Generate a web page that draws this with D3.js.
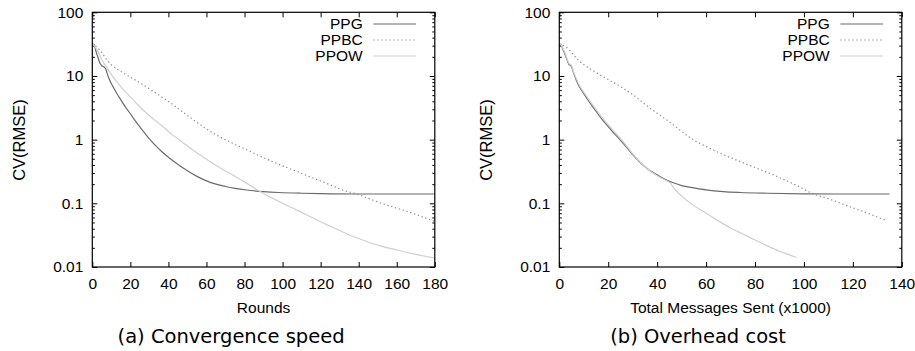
<!DOCTYPE html>
<html>
<head>
<meta charset="utf-8">
<script src="https://cdn.jsdelivr.net/npm/d3@7"></script>
<style>
  body { margin: 0; background: #fff; }
  svg text { font-family: "Liberation Sans", Arial, sans-serif; fill: #000; }
</style>
</head>
<body>
<svg id="chart" width="915" height="351"></svg>
<script>
// series names and y tick values
const seriesNames = ["PPG", "PPBC", "PPOW"];
const yTicks = [0.01, 0.1, 1, 10, 100];
const xTicksA = [0, 20, 40, 60, 80, 100, 120, 140, 160, 180];
const xTicksB = [0, 20, 40, 60, 80, 100, 120, 140];

// (a) convergence speed: rounds vs CV(RMSE)
const roundsPPG = [0, 1, 2, 3, 4, 5, 6, 7, 8, 9, 10, 12, 14, 17, 20, 23, 26, 30, 33, 37, 40, 46, 50, 55, 60, 65, 70, 75, 81, 90, 98, 110, 120, 140, 160, 180];
const cvPPG_A = [32, 31, 24, 19.5, 16, 14.5, 14, 13, 10.5, 8.8, 7.6, 5.9, 4.7, 3.4, 2.55, 1.9, 1.45, 1.03, 0.82, 0.63, 0.53, 0.39, 0.325, 0.265, 0.225, 0.2, 0.184, 0.172, 0.162, 0.153, 0.148, 0.144, 0.142, 0.14, 0.14, 0.14];
const roundsPPBC = [0, 2, 4, 6, 8, 10, 12, 15, 19, 25, 31, 36, 41, 45, 50, 55, 60, 66, 72, 80, 90, 98, 106, 116, 125, 132, 139, 145, 152, 160, 170, 180];
const cvPPBC_A = [32, 29, 25.5, 21, 17.5, 15, 13.5, 11.8, 10, 7.8, 6, 4.8, 3.8, 3.1, 2.4, 1.87, 1.47, 1.15, 0.93, 0.72, 0.52, 0.41, 0.33, 0.25, 0.195, 0.16, 0.14, 0.12, 0.1, 0.084, 0.067, 0.052];
const roundsPPOW = [0, 1, 3, 5, 7, 10, 13, 17, 20, 24, 28, 31, 35, 38, 42, 47, 53, 58, 63, 68, 72, 77, 82, 86, 90, 95, 100, 105, 110, 116, 122, 128, 134, 140, 150, 160, 170, 180];
const cvPPOW_A = [32, 30, 24, 18, 14.5, 10.5, 8, 5.8, 4.7, 3.5, 2.7, 2.25, 1.8, 1.52, 1.2, 0.93, 0.68, 0.54, 0.43, 0.35, 0.3, 0.245, 0.2, 0.168, 0.143, 0.119, 0.1, 0.085, 0.072, 0.059, 0.048, 0.04, 0.033, 0.028, 0.022, 0.0185, 0.0158, 0.0138];

// (b) overhead cost: total messages sent (x1000) vs CV(RMSE)
const msgPPG = [0, 0.8, 1.5, 2.5, 3.8, 5, 5.9, 7, 8, 9.3, 11, 13.4, 15, 17.4, 20, 22, 24.3, 27, 30, 33, 36, 40, 43, 46.6, 50, 55, 60, 67, 74, 85, 100, 115, 135];
const cvPPG_B = [32, 31, 26, 21, 15.5, 14, 11, 8.5, 7, 5.8, 4.6, 3.4, 2.8, 2.1, 1.6, 1.3, 1.05, 0.8, 0.58, 0.44, 0.35, 0.28, 0.24, 0.21, 0.19, 0.175, 0.163, 0.153, 0.148, 0.144, 0.141, 0.14, 0.14];
const msgPPBC = [0, 3, 6, 8, 10.6, 14, 17.4, 20, 25, 30, 35, 40, 45, 50, 55, 60, 65, 70, 75, 80, 87, 93, 98, 103, 110, 115, 120, 126, 130, 134];
const cvPPBC_B = [32, 28, 21, 17.5, 14.5, 12, 10, 8.8, 6.8, 5.1, 3.6, 2.6, 1.9, 1.35, 0.98, 0.78, 0.63, 0.52, 0.435, 0.365, 0.285, 0.225, 0.183, 0.145, 0.118, 0.1, 0.085, 0.07, 0.061, 0.053];
const msgPPOW = [0, 0.8, 1.5, 2.5, 3.8, 5, 5.9, 7, 8, 9.3, 11, 13.4, 15, 17.4, 20, 22, 24.3, 27, 30, 33, 36, 40, 43, 45.5, 46.5, 50, 55, 60, 65, 70, 75, 80, 85, 90, 94, 97];
const cvPPOW_B = [32, 31, 27, 22, 16, 14.5, 11.5, 9, 7.4, 6.1, 4.9, 3.6, 3.0, 2.25, 1.72, 1.4, 1.12, 0.84, 0.6, 0.45, 0.35, 0.27, 0.235, 0.205, 0.18, 0.13, 0.092, 0.07, 0.053, 0.041, 0.033, 0.0265, 0.0215, 0.0177, 0.0155, 0.0141];

const styles = {
  PPG: { color: "#6b6b6b", dash: null },
  PPBC: { color: "#8c8c8c", dash: "1.3,2.7" },
  PPOW: { color: "#cfcfcf", dash: null }
};

const svg = d3.select("svg#chart");
svg.append("rect").attr("width", 915).attr("height", 351).attr("fill", "#fff");

var margin = { top: 12.3, left: 92.3 },
  width = 342.5,
  height = 254.7;

function drawPanel(offsetX, xMax, xTicks, xLabel, caption, series) {
  let g = svg.append("g").attr("transform", "translate(" + (margin.left + offsetX) + "," + margin.top + ")");
  let x = d3.scaleLinear().domain([0, xMax]).range([0, width]);
  let y = d3.scaleLog().domain([0.01, 100]).range([height, 0]);

  // minor log ticks 2..9 in each decade
  let minor = [];
  yTicks.slice(0, -1).forEach(d => { for (let k = 2; k <= 9; k++) minor.push(d * k); });

  g.append("g").attr("class", "axis")
    .call(d3.axisLeft(y).tickValues(yTicks).tickFormat(d3.format("~g")).tickSize(-5).tickPadding(9));
  g.append("g").call(d3.axisLeft(y).tickValues(minor).tickFormat("").tickSize(-2.5));
  g.append("g").attr("transform", "translate(" + width + ",0)")
    .call(d3.axisRight(y).tickValues(yTicks).tickFormat("").tickSize(-5));
  g.append("g").attr("transform", "translate(" + width + ",0)")
    .call(d3.axisRight(y).tickValues(minor).tickFormat("").tickSize(-2.5));

  g.append("g").attr("class", "axis").attr("transform", "translate(0," + height + ")")
    .call(d3.axisBottom(x).tickValues(xTicks).tickSize(-5).tickPadding(11));
  g.append("g")
    .call(d3.axisTop(x).tickValues(xTicks).tickFormat("").tickSize(-5));

  g.selectAll(".domain").remove();
  g.selectAll(".tick line").attr("stroke", "#000").attr("stroke-width", 1);
  g.selectAll(".axis text").style("font-size", "15.5px").attr("fill", "#000");

  // the series lines
  let line = d3.line().curve(d3.curveMonotoneX).x(d => x(d[0])).y(d => y(d[1]));
  series.forEach(s => {
    let st = styles[s.name];
    g.append("path")
      .datum(d3.zip(s.xs, s.ys))
      .attr("fill", "none")
      .attr("stroke", st.color)
      .attr("stroke-width", 1.2)
      .attr("stroke-dasharray", st.dash)
      .attr("d", line);
  });

  // frame
  g.append("rect").attr("width", width).attr("height", height)
    .attr("fill", "none").attr("stroke", "#000").attr("stroke-width", 1.2);

  // legend
  seriesNames.forEach((name, i) => {
    let ly = 11.7 + i * 16;
    let st = styles[name];
    g.append("text").attr("x", 270.4).attr("y", ly).attr("text-anchor", "end")
      .attr("dominant-baseline", "central").style("font-size", "15.5px").text(name);
    g.append("line").attr("x1", 281).attr("x2", 323.7).attr("y1", ly).attr("y2", ly)
      .attr("stroke", st.color).attr("stroke-width", 1.2).attr("stroke-dasharray", st.dash);
  });

  // axis titles
  g.append("text").attr("x", width / 2).attr("y", 301).attr("text-anchor", "middle")
    .style("font-size", "15.5px").text(xLabel);
  g.append("text").attr("transform", "translate(-73.8," + (140 - margin.top) + ") rotate(-90)")
    .attr("text-anchor", "middle").attr("dominant-baseline", "central")
    .style("font-size", "16.5px").text("CV(RMSE)");

  // sub-caption
  g.append("text").attr("x", width / 2 - 32.5).attr("y", 331).attr("text-anchor", "middle")
    .style("font-family", "'DejaVu Sans', sans-serif").style("font-size", "19.5px").text(caption);
}

drawPanel(0, 180, xTicksA, "Rounds", "(a) Convergence speed", [
  { name: "PPG", xs: roundsPPG, ys: cvPPG_A },
  { name: "PPBC", xs: roundsPPBC, ys: cvPPBC_A },
  { name: "PPOW", xs: roundsPPOW, ys: cvPPOW_A }
]);
drawPanel(467, 140, xTicksB, "Total Messages Sent (x1000)", "(b) Overhead cost", [
  { name: "PPG", xs: msgPPG, ys: cvPPG_B },
  { name: "PPBC", xs: msgPPBC, ys: cvPPBC_B },
  { name: "PPOW", xs: msgPPOW, ys: cvPPOW_B }
]);
</script>
</body>
</html>
